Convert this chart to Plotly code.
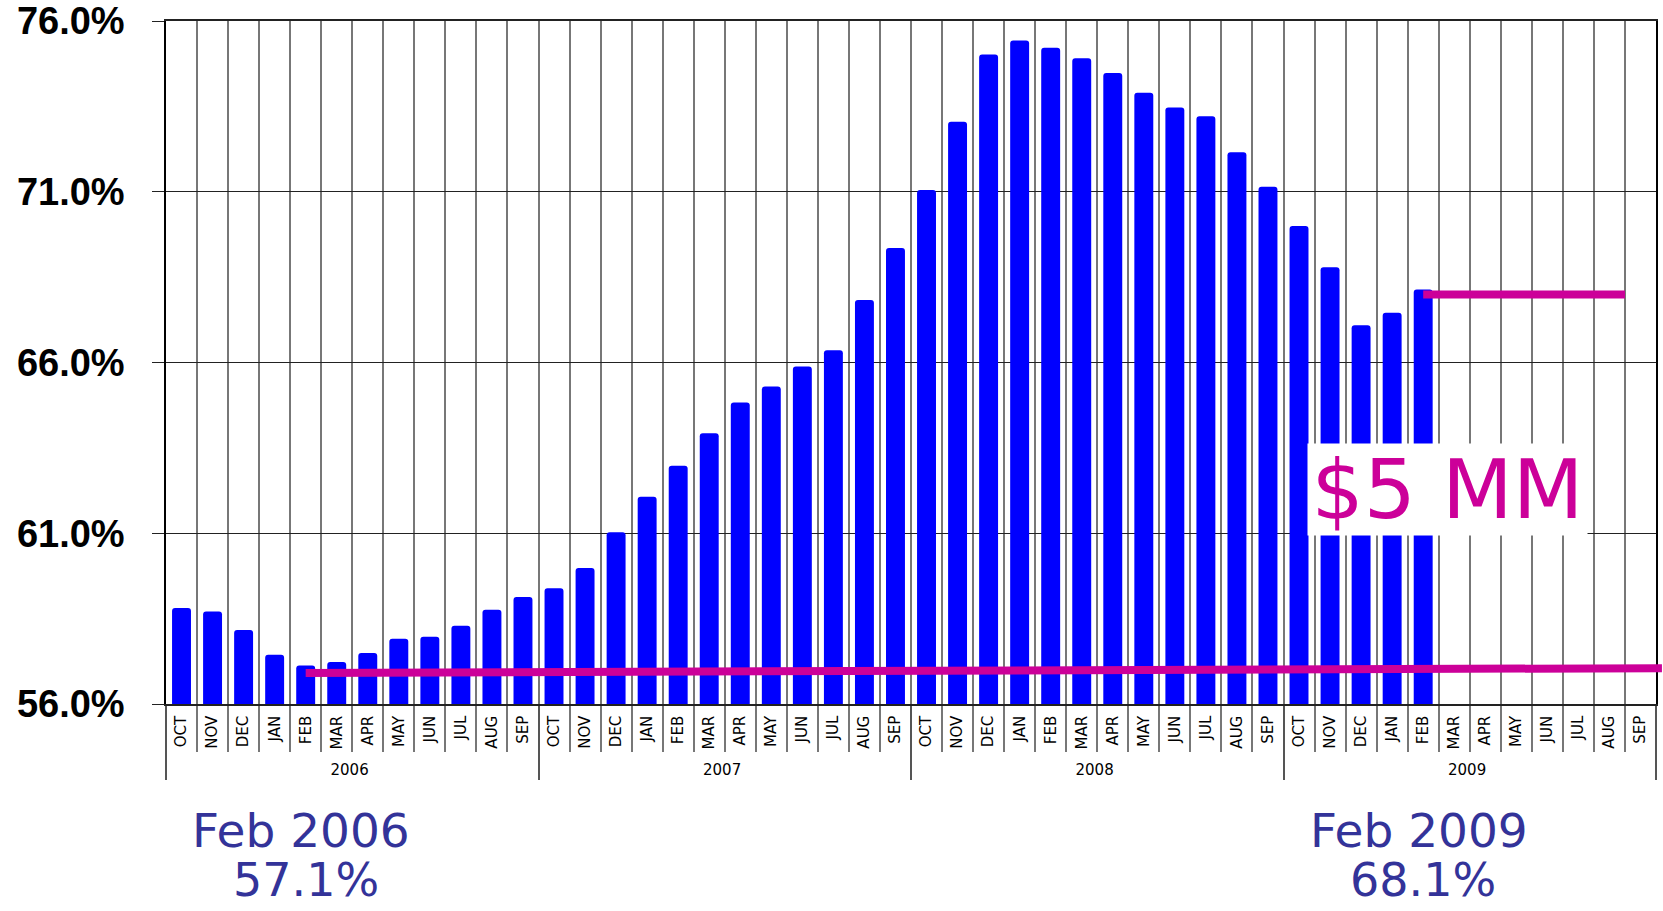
import plotly.graph_objects as go

# ---------------- data ----------------
months = ["OCT", "NOV", "DEC", "JAN", "FEB", "MAR", "APR", "MAY", "JUN", "JUL", "AUG", "SEP"]
fiscal_years = ["2006", "2007", "2008", "2009"]

# monthly percentage, Oct 2005 .. Feb 2009 (remaining months of FY2009 empty)
values = [58.81, 58.71, 58.17, 57.44, 57.13, 57.23, 57.49, 57.91, 57.97, 58.29, 58.76, 59.13,
          59.39, 59.98, 61.03, 62.07, 62.98, 63.93, 64.83, 65.30, 65.88, 66.36, 67.83, 69.35,
          71.05, 73.05, 75.02, 75.43, 75.22, 74.91, 74.48, 73.90, 73.47, 73.21, 72.16, 71.15,
          70.00, 68.79, 67.09, 67.46, 68.14]

y_tickvals = [56, 61, 66, 71, 76]
y_ticktext = ["56.0%", "61.0%", "66.0%", "71.0%", "76.0%"]

# reference markers
start_idx = 4            # Feb 2006
end_idx = 40             # Feb 2009
high_line_end = 46.5     # boundary AUG / SEP 2009
low_line_values = [56.91, 57.05]    # magenta trend line (start, end)
high_line_value = 67.99             # magenta level at Feb 2009
callout_dates = ["Feb 2006", "Feb 2009"]
callout_values = ["57.1%", "68.1%"]
box_text = "$5 MM"

# ---------------- build ----------------
x_years = [fy for fy in fiscal_years for _ in months]
x_months = [m for _ in fiscal_years for m in months]
n = len(x_months)
y_full = values + [None] * (n - len(values))

BLUE = "#0000FF"
MAGENTA = "#CC0099"
NAVY = "#333399"

fig = go.Figure()
fig.add_trace(go.Bar(
    x=[x_years, x_months],
    y=y_full,
    marker=dict(color=BLUE, line=dict(width=0), cornerradius=3),
    width=0.61,
    hoverinfo="skip",
))

def xdom(i):
    return (i + 0.5) / n

shapes = [
    dict(type="line", xref="x domain", yref="y",
         x0=xdom(start_idx), x1=1.004, y0=low_line_values[0], y1=low_line_values[1],
         line=dict(color=MAGENTA, width=8), layer="above"),
    dict(type="line", xref="x domain", yref="y",
         x0=xdom(end_idx), x1=xdom(high_line_end), y0=high_line_value, y1=high_line_value,
         line=dict(color=MAGENTA, width=8), layer="above"),
]

annotations = [
    dict(text=box_text, xref="paper", yref="paper", x=0.86, y=0.3144,
         xanchor="center", yanchor="middle", showarrow=False,
         font=dict(family="DejaVu Sans", size=82, color=MAGENTA),
         bgcolor="white", width=279, height=91, borderpad=0),
]
for k, idx in enumerate([start_idx, end_idx]):
    annotations.append(dict(text=callout_dates[k], xref="x domain", yref="paper",
                            x=xdom(idx) - 0.003, y=-0.185, xanchor="center", yanchor="middle",
                            showarrow=False, font=dict(family="DejaVu Sans", size=47, color=NAVY)))
    annotations.append(dict(text=callout_values[k], xref="x domain", yref="paper",
                            x=xdom(idx), y=-0.258, xanchor="center", yanchor="middle",
                            borderpad=0,
                            showarrow=False, font=dict(family="DejaVu Sans", size=46, color=NAVY)))

fig.update_layout(
    width=1663, height=911,
    margin=dict(l=166, r=7, t=21, b=207, autoexpand=False),
    paper_bgcolor="white", plot_bgcolor="white",
    showlegend=False,
    shapes=shapes,
    annotations=annotations,
)

fig.update_xaxes(
    type="multicategory",
    automargin=False,
    range=[-0.5, n - 0.5],
    tickangle=-90,
    tickfont=dict(family="DejaVu Sans", size=15, color="black"),
    showgrid=True, gridcolor="#777777", gridwidth=2,
    showline=True, linecolor="#222", linewidth=1.5, mirror=True,
    ticks="outside", ticklen=46, tickcolor="#777777", tickwidth=1.5,
    tickson="boundaries",
    ticklabelstandoff=4,
    showdividers=True, dividercolor="#555", dividerwidth=1.5,
    zeroline=False,
)
fig.update_yaxes(
    automargin=False,
    range=[56, 76],
    tickvals=y_tickvals, ticktext=y_ticktext,
    tickfont=dict(family="Liberation Sans, Arial", size=38, color="black", weight="bold"),
    showgrid=True, gridcolor="#222", gridwidth=1,
    showline=True, linecolor="black", linewidth=1.5, mirror=True,
    ticks="outside", ticklen=12, tickcolor="#222",
    ticklabelstandoff=20,
    zeroline=False,
)

fig.write_html("out.html",
               config={"displayModeBar": False},
               post_script="document.body.style.margin='0';document.body.style.padding='0';")
